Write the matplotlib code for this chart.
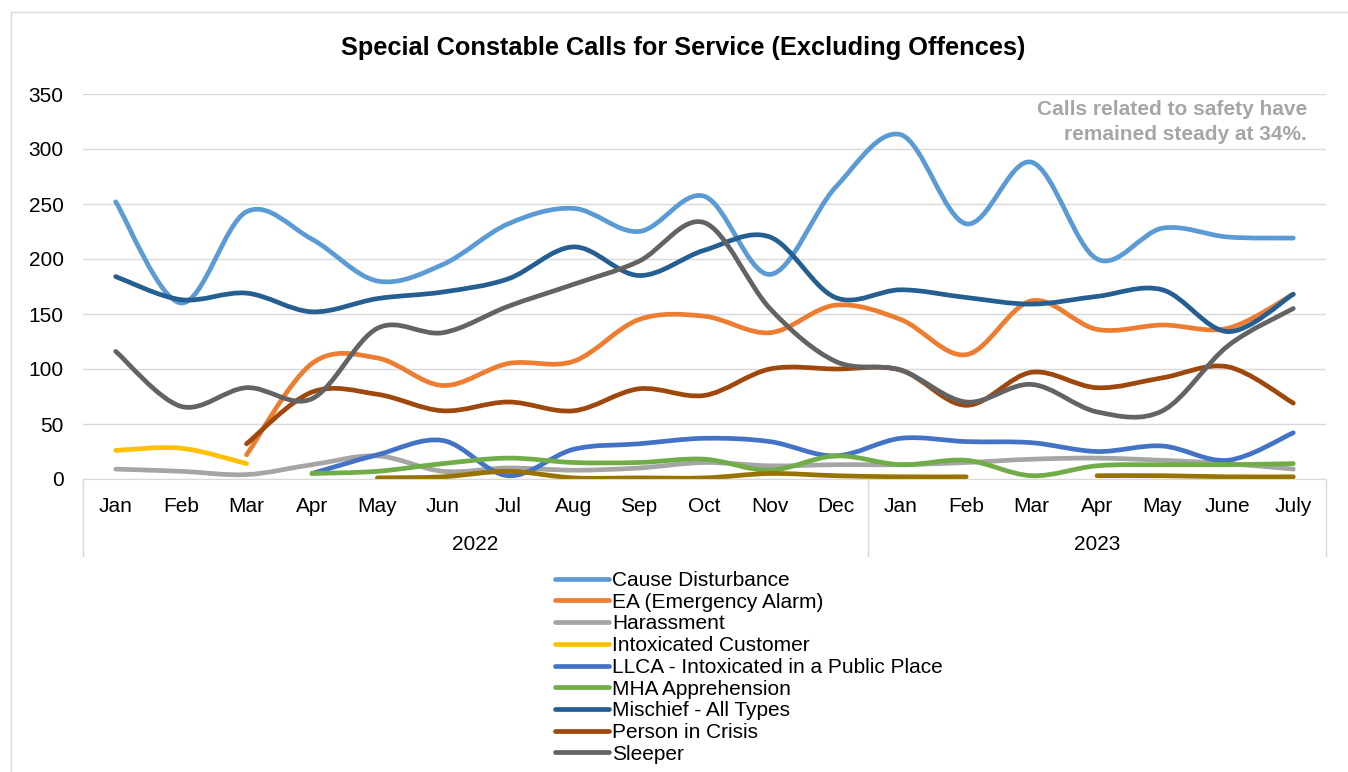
import numpy as np
import matplotlib.pyplot as plt
from matplotlib.path import Path
from matplotlib.patches import PathPatch, Rectangle
from matplotlib.lines import Line2D

plt.rcParams['font.family'] = ['Liberation Sans', 'DejaVu Sans']

months = ['Jan', 'Feb', 'Mar', 'Apr', 'May', 'Jun', 'Jul', 'Aug', 'Sep', 'Oct', 'Nov', 'Dec',
          'Jan', 'Feb', 'Mar', 'Apr', 'May', 'June', 'July']
years = ['2022', '2023']
year_counts = [12, 7]
nan = np.nan

cause_disturbance = [252, 160, 243, 218, 180, 195, 232, 246, 225, 257, 186, 265, 313, 232, 288, 200, 228, 220, 219]
emergency_alarm = [nan, nan, 22, 105, 110, 85, 105, 107, 145, 148, 133, 158, 145, 113, 162, 136, 140, 137, 168]
harassment = [9, 7, 4, 13, 21, 7, 10, 8, 10, 15, 12, 13, 13, 15, 18, 19, 17, 14, 9]
intoxicated_customer = [26, 28, 14] + [nan] * 16
llca = [nan, nan, nan, 5, 22, 35, 3, 27, 32, 37, 34, 21, 37, 34, 33, 25, 30, 17, 42]
mha = [nan, nan, nan, 5, 7, 14, 19, 15, 15, 18, 8, 21, 13, 17, 3, 12, 13, 13, 14]
mischief = [184, 163, 169, 152, 164, 170, 182, 211, 185, 208, 220, 165, 172, 165, 159, 166, 172, 134, 168]
person_in_crisis = [nan, nan, 32, 79, 77, 62, 70, 62, 82, 76, 100, 100, 99, 67, 97, 83, 92, 102, 69]
sleeper = [116, 66, 83, 73, 137, 133, 157, 177, 198, 233, 155, 107, 99, 70, 86, 61, 62, 121, 155]
other = [nan, nan, nan, nan, 1, 2, 7, 1, 1, 1, 5, 3, 2, 2, nan, 3, 3, 2, 2]

series = [
    ('Cause Disturbance', cause_disturbance, '#5B9BD5'),
    ('EA (Emergency Alarm)', emergency_alarm, '#ED7D31'),
    ('Harassment', harassment, '#A5A5A5'),
    ('Intoxicated Customer', intoxicated_customer, '#FFC000'),
    ('LLCA - Intoxicated in a Public Place', llca, '#4472C4'),
    ('MHA Apprehension', mha, '#70AD47'),
    ('Mischief - All Types', mischief, '#255E91'),
    ('Person in Crisis', person_in_crisis, '#9E480E'),
    ('Sleeper', sleeper, '#636363'),
    (None, other, '#997300'),
]


def smooth_path(xs, ys):
    # Excel-style smoothed line: cubic Bezier through each point
    pts = np.column_stack([xs, ys])
    n = len(pts)
    if n == 1:
        return Path(pts)
    verts = [pts[0]]
    codes = [Path.MOVETO]
    for i in range(n - 1):
        p0 = pts[max(i - 1, 0)]
        p1 = pts[i]
        p2 = pts[i + 1]
        p3 = pts[min(i + 2, n - 1)]
        c1 = p1 + (p2 - p0) / 6
        c2 = p2 - (p3 - p1) / 6
        verts += [c1, c2, p2]
        codes += [Path.CURVE4] * 3
    return Path(verts, codes)


fig = plt.figure(figsize=(13.48, 7.72), dpi=100)
ax = fig.add_axes([83 / 1348, 1 - 479 / 772, (1326 - 83) / 1348, 385 / 772])

x = np.arange(len(months))
handles = []
for name, vals, color in series:
    vals = np.array(vals, dtype=float)
    ok = ~np.isnan(vals)
    # split into continuous runs
    start = None
    for i in range(len(vals) + 1):
        if i < len(vals) and ok[i]:
            if start is None:
                start = i
        elif start is not None:
            path = smooth_path(x[start:i], vals[start:i])
            ax.add_patch(PathPatch(path, fill=False, edgecolor=color, lw=3.4,
                                   capstyle='round', joinstyle='round'))
            start = None
    if name:
        handles.append(Line2D([], [], color=color, lw=3.4, solid_capstyle='round', label=name))

fs = 15
ax.set_xlim(-0.5, len(months) - 0.5)
ax.set_ylim(0, 350)
ax.set_yticks(range(0, 351, 50))
ax.set_xticks(x)
ax.set_xticklabels(months)
ax.tick_params(length=0, labelsize=fs, colors='black', pad=13)
ax.tick_params(axis='y', pad=14)
ax.grid(axis='y', color='#D9D9D9', lw=1)
ax.set_axisbelow(True)
for s in ['top', 'right', 'left']:
    ax.spines[s].set_visible(False)
ax.spines['bottom'].set_color('#D9D9D9')

# category groups under the month labels
bounds = [0] + list(np.cumsum(year_counts))
trans = ax.get_xaxis_transform()
for b in bounds:
    ax.plot([b - 0.5, b - 0.5], [0, -0.2], transform=trans, color='#D9D9D9', lw=1, clip_on=False)
for yr, a, b in zip(years, bounds[:-1], bounds[1:]):
    ax.text((a + b - 1) / 2, -0.169, yr, transform=trans, ha='center', va='center', fontsize=fs)

fig.text(683 / 1348, 1 - 48 / 772, 'Special Constable Calls for Service (Excluding Offences)',
         ha='center', va='center', fontsize=18.3, fontweight='bold')
fig.text(1307 / 1348, 1 - 122 / 772, 'Calls related to safety have\nremained steady at 34%.',
         ha='right', va='center', fontsize=fs, fontweight='bold', color='#A6A6A6', linespacing=1.45)

fig.legend(handles=handles, loc='upper left', bbox_to_anchor=(555 / 1348, 1 - 571 / 772),
           frameon=False, fontsize=fs, handlelength=2.6, handletextpad=0.15,
           labelspacing=0.13, borderaxespad=0, borderpad=0)

fig.patches.append(Rectangle((11 / 1348, -0.05), 1.1, 1 - 12 / 772 + 0.05, transform=fig.transFigure,
                             fill=False, edgecolor='#D9D9D9', lw=1))

fig.savefig('out.png', dpi=100)
